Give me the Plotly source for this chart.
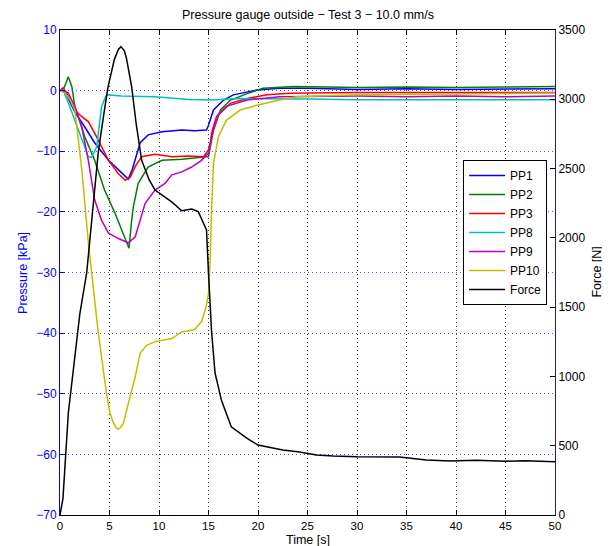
import plotly.graph_objects as go

# waypoints (time [s], pressure [kPa])
pp1_t = [0, 0.3, 0.8, 1.5, 2.5, 3.5, 4.9, 5.9, 6.9, 7.3, 7.6, 8.1, 8.9, 10.3, 12.3, 13.6, 14.8, 15.0,
         15.5, 16.5, 17.5, 19.9, 22.2, 25, 30, 35, 40, 45, 50]
pp1_p = [0, 0.1, -1.2, -3.5, -6.0, -8.6, -11.5, -13.1, -14.6, -13.0, -11.5, -8.6, -7.3, -6.8, -6.5,
         -6.6, -6.5, -5.7, -3.2, -1.6, -0.7, 0.1, 0.4, 0.4, 0.2, 0.3, 0.2, 0.3, 0.3]

pp2_t = [0, 0.4, 0.84, 1.2, 1.5, 2.5, 3.5, 4.5, 5.55, 6.2, 6.97, 7.2, 7.4, 7.9, 8.9, 10.3, 12.3, 14.8,
         15.0, 15.5, 16.2, 17.2, 18.9, 20.5, 23.6, 27, 30, 35, 40, 45, 50]
pp2_p = [0, 0.4, 2.3, 0.6, -2.6, -7.6, -11.5, -16.4, -20.2, -23.0, -26.0, -22.0, -19.2, -15.3, -12.6,
         -11.5, -11.3, -10.9, -10.9, -6.5, -3.2, -1.6, -0.5, 0.4, 0.7, 0.6, 0.5, 0.6, 0.5, 0.6, 0.7]

pp3_t = [0, 0.3, 0.8, 1.5, 2.2, 2.86, 3.5, 4.2, 4.9, 5.9, 6.6, 7.1, 7.6, 8.25, 9.6, 11.3, 13.0, 14.5,
         15.0, 15.5, 16.0, 17.2, 18.9, 20.9, 23.2, 30, 35, 40, 45, 50]
pp3_p = [0, 0.5, -0.8, -3.2, -4.3, -5.1, -7.0, -9.3, -11.5, -13.7, -14.8, -14.3, -12.5, -10.9, -10.5,
         -10.9, -10.8, -10.9, -9.8, -6.5, -4.0, -2.1, -1.3, -0.7, -0.45, -0.3, -0.3, -0.4, -0.3, -0.3]

pp8_t = [0, 0.3, 0.84, 1.85, 2.86, 3.2, 3.7, 4.2, 4.7, 6.2, 9.6, 13.0, 15.3, 18, 20, 25, 30, 35, 40, 45, 50]
pp8_p = [0, 0.1, -2.0, -6.5, -10.9, -11.0, -9.3, -2.6, -0.7, -0.9, -1.0, -1.45, -1.55, -1.3, -1.3, -1.4,
         -1.5, -1.5, -1.4, -1.5, -1.5]

pp9_t = [0, 0.8, 1.5, 2.2, 2.86, 3.5, 4.2, 4.9, 5.9, 6.9, 7.6, 8.1, 8.6, 9.6, 10.6, 11.3, 12.3, 13.3,
         14.3, 15.0, 15.15, 15.3, 15.8, 16.8, 18.9, 22.2, 30, 35, 40, 45, 50]
pp9_p = [0, -0.3, -2.6, -6.0, -11.5, -18.0, -21.4, -23.5, -24.4, -25.1, -24.1, -21.4, -18.6, -16.4,
         -15.3, -13.9, -13.4, -12.6, -11.5, -10.3, -9.3, -7.0, -4.3, -2.6, -1.55, -1.0, -0.9, -1.0,
         -0.9, -1.0, -0.9]

pp10_t = [0, 0.5, 1.0, 1.5, 2.2, 2.86, 3.87, 4.7, 5.05, 5.4, 5.7, 5.9, 6.1, 6.4, 6.9, 7.6, 8.1, 8.76,
          9.6, 11.3, 12.3, 13.6, 14.3, 14.8, 15.0, 15.15, 15.3, 15.5, 16.0, 16.8, 18.2, 19.9, 22.2,
          23.9, 30, 40, 50]
pp10_p = [0, -0.4, -1.5, -3.2, -13.0, -25.0, -40.0, -50.0, -53.2, -54.8, -55.7, -55.8, -55.6, -54.9,
          -51.6, -47.2, -43.3, -42.0, -41.4, -40.9, -39.8, -39.4, -38.1, -35.4, -33.5, -28.4, -20.2,
          -12.0, -7.6, -4.9, -3.2, -2.4, -1.55, -1.0, -0.7, -0.5, -0.4]

force_t = [0, 0.3, 0.84, 1.5, 2.0, 2.7, 3.3, 3.87, 4.4, 4.85, 5.5, 5.9, 6.16, 6.5, 6.7, 7.24, 7.7, 8.25,
           9.0, 9.6, 10.5, 11.28, 12.3, 13.3, 13.96, 14.8, 15.0, 15.3, 15.66, 16.3, 17.3, 18.86, 20.0,
           22.5, 24.2, 25.9, 27.6, 30, 34.3, 37, 39.4, 42, 45, 47, 50]
force_n = [0, 120, 736, 1150, 1450, 1750, 2200, 2620, 2880, 3090, 3290, 3360, 3380, 3350, 3300, 3090,
           2820, 2560, 2420, 2345, 2300, 2260, 2196, 2208, 2190, 2057, 1745, 1335, 1025, 830, 637, 555,
           505, 469, 455, 433, 426, 420, 418, 397, 390, 395, 388, 392, 385]

series = [
    ("PP1", pp1_t, pp1_p, "rgb(0,0,255)"),
    ("PP2", pp2_t, pp2_p, "rgb(0,128,0)"),
    ("PP3", pp3_t, pp3_p, "rgb(255,0,0)"),
    ("PP8", pp8_t, pp8_p, "rgb(0,191,191)"),
    ("PP9", pp9_t, pp9_p, "rgb(191,0,191)"),
    ("PP10", pp10_t, pp10_p, "rgb(191,191,0)"),
]

fig = go.Figure()
for name, t, p, c in series:
    fig.add_trace(go.Scatter(x=t, y=p, mode="lines", name=name,
                             line=dict(color=c, width=1.5)))

fig.add_trace(go.Scatter(x=force_t, y=force_n, mode="lines", name="Force", yaxis="y2",
                         line=dict(color="black", width=1.5)))

font = dict(family="Liberation Sans, Arial, sans-serif", size=12, color="black")

# page body adds an 8px offset, so the figure is slightly smaller than the window
fig.update_layout(
    width=602, height=538,
    margin=dict(l=52, r=55, t=22, b=31, autoexpand=False),
    paper_bgcolor="white", plot_bgcolor="white",
    font=font,
    xaxis=dict(range=[0, 50], dtick=5, ticks="inside", ticklen=5, tickcolor="black",
               showline=True, linecolor="black", mirror="ticks", linewidth=1, automargin=False,
               showgrid=True, gridcolor="#333333", griddash="1px,3px", gridwidth=1,
               zeroline=False, tickfont=dict(size=11.5)),
    yaxis=dict(range=[-70, 10], dtick=10, ticks="inside", ticklen=5, tickcolor="blue",
               showline=True, linecolor="blue", linewidth=1, automargin=False,
               tickfont=dict(color="blue"),
               showgrid=True, gridcolor="#5555ff", griddash="1px,3px", gridwidth=1,
               zeroline=False),
    yaxis2=dict(range=[0, 3500], dtick=500, overlaying="y", side="right", ticks="inside",
                ticklen=5, tickcolor="black", showline=True, linecolor="#1c1c8a", linewidth=1,
                showgrid=False, zeroline=False, automargin=False),
    legend=dict(x=0.984, y=0.732, xanchor="right", yanchor="top",
                bordercolor="black", borderwidth=1, bgcolor="white",
                font=dict(size=12), tracegroupgap=0, itemwidth=36),
    showlegend=True,
)

labels = [
    dict(text="Pressure gauge outside − Test 3 − 10.0 mm/s", x=0.5, y=1.031, textangle=0, color="black"),
    dict(text="Time [s]", x=0.5, y=-0.052, textangle=0, color="black"),
    dict(text="Pressure [kPa]", x=-0.076, y=0.5, textangle=-90, color="blue"),
    dict(text="Force [N]", x=1.083, y=0.5, textangle=-90, color="black"),
]
for lb in labels:
    fig.add_annotation(text=lb["text"], x=lb["x"], y=lb["y"], xref="paper", yref="paper",
                       xanchor="center", yanchor="middle", showarrow=False,
                       textangle=lb["textangle"], font=dict(size=12.5, color=lb["color"]))

fig.write_html("out.html")
